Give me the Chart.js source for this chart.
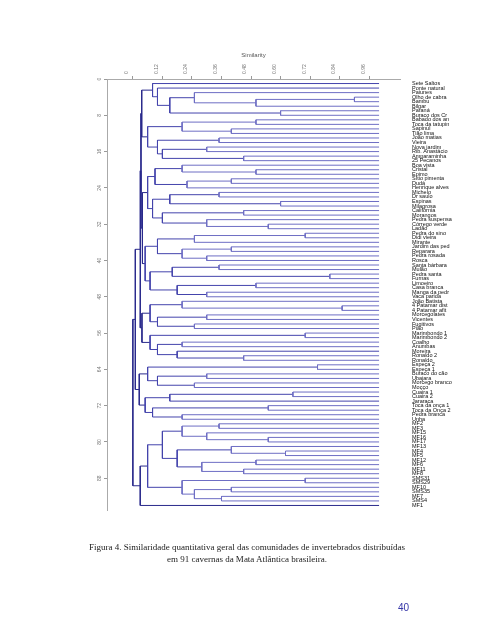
<!DOCTYPE html>
<html>
<head>
<meta charset="utf-8">
<script src="https://cdn.jsdelivr.net/npm/chart.js@4.4.1/dist/chart.umd.min.js"></script>
<style>
    body { margin: 0; background: #fff; }
    #page { position: relative; width: 494px; height: 640px; overflow: hidden; }
    #page canvas { position: absolute; left: 0; top: 0; }
    .cap { position: absolute; left: 0; width: 494px; text-align: center;
           font-family: "Liberation Serif", serif; font-size: 9px; color: #222; }
    #pageNum { position: absolute; left: 398px; top: 602px; font-family: "Liberation Sans", Arial, sans-serif;
               font-size: 10px; color: #3535a8; }
</style>
</head>
<body>
<div id="page">
    <canvas id="similarityDendrogram" width="494" height="640"></canvas>
    <div class="cap" style="top:542px">Figura 4. Similaridade quantitativa geral das comunidades de invertebrados distribuídas</div>
    <div class="cap" style="top:554px">em 91 cavernas da Mata Atlântica brasileira.</div>
    <div id="pageNum">40</div>
</div>
<script>
// Caves, top to bottom as in the tree
const caveNames = [
    'Sete Saltos', 'Ponte natural', 'Paiunes', 'Olho de cabra', 'Bambu', 'Bilgar', 'Paraná',
    'Buraco dos Cr', 'Babado dos an', 'Toca da tatupin', 'Sapinul', 'Tião lima', 'João matias',
    'Vieira', 'Nova jardim', 'Rib. Anastácio', 'Amparaminha', '25 Pecanos', 'Boa vista', 'Cristal',
    'Epimo', 'Sítio pimenta', 'Dudá', 'Henrique alves', 'Michelo', 'Dr saulo', 'Espinas', 'Milagrosa',
    'Califórnia', 'Morangos', 'Pedra suspensa', 'Córrego verde', 'Ladão', 'Pedra do sino',
    'Didi vieira', 'Mirante', 'Jardim das ped', 'Reparara', 'Pedra rosada', 'Rosca', 'Santa bárbara',
    'Mulão', 'Pedra santa', 'Furnas', 'Limoeiro', 'Casa branca', 'Manga da pedr', 'Vaca parida',
    'João Batista', '4 Patamar dist', '4 Patamar afit', 'Morcegolates', 'Vicentes', 'Fugitivos',
    'Pião', 'Marimbondo 1', 'Marimbondo 2', 'Coalho', 'Anumbas', 'Moreira', 'Ronaldo 2', 'Ronaldo',
    'Espeça 2', 'Espeça 1', 'Buraco do cão', 'Ubajara', 'Morcego branco', 'Moçço', 'Cuaira 1',
    'Cuaira 2', 'Jararaca', 'Toca da onça 1', 'Toca da Onça 2', 'Pedra branca', 'Unha',
    'MF2', 'MF3', 'MF15', 'MF16', 'MF17', 'MF13', 'MF4', 'MF5', 'MF12', 'MF6', 'MF11', 'MF8',
    'SMS31', 'SMS29', 'MF10', 'SMS35', 'MF7', 'SMS4', 'MF1'
];

// Each join: rows mergeFrom..mergeSplit meet rows mergeSplit+1..mergeTo at similarity mergeSim
const mergeFrom = [
    1,
    76, 76, 76, 76, 76, 78, 79, 81, 81, 82, 84, 84, 86, 88, 88, 90, 90, 92,
    1, 63, 63, 63, 65, 65, 67, 69, 69, 69, 72, 72, 74,
    1, 49, 49, 49, 50, 52, 52, 54, 56, 56, 58, 58, 60, 61,
    1, 1, 1, 2, 3, 3, 4, 4, 7, 9, 9, 9, 11, 13, 13, 15, 15, 17,
    19, 19, 19, 19, 20, 22, 22, 25, 25, 25, 27, 29, 29, 31, 32, 34, 34, 34, 34, 37, 37, 39, 41, 41, 41, 43, 45, 45, 47
];
const mergeSplit = [
    75,
    93, 87, 80, 77, 76, 78, 79, 83, 81, 82, 85, 84, 86, 89, 88, 91, 90, 92,
    62, 68, 64, 63, 66, 65, 67, 71, 70, 69, 73, 72, 74,
    48, 55, 51, 49, 50, 53, 52, 54, 57, 56, 59, 58, 60, 61,
    18, 8, 1, 2, 6, 3, 5, 4, 7, 12, 10, 9, 11, 14, 13, 16, 15, 17,
    33, 24, 21, 19, 20, 23, 22, 28, 26, 25, 27, 30, 29, 31, 32, 40, 36, 35, 34, 38, 37, 39, 44, 42, 41, 43, 46, 45, 47
];
const mergeTo = [
    94,
    94, 93, 87, 80, 77, 80, 80, 87, 83, 83, 87, 85, 87, 93, 89, 93, 91, 93,
    75, 75, 68, 64, 68, 66, 68, 75, 71, 70, 75, 73, 75,
    62, 62, 55, 51, 51, 55, 53, 55, 62, 57, 62, 59, 62, 62,
    48, 18, 8, 8, 8, 6, 6, 5, 8, 18, 12, 10, 12, 18, 14, 18, 16, 18,
    48, 33, 24, 21, 21, 24, 23, 33, 28, 26, 28, 33, 30, 33, 33, 48, 40, 36, 35, 40, 38, 40, 48, 44, 42, 44, 48, 46, 48
];
const mergeSim = [
    0.00,
    0.03, 0.06, 0.12, 0.20, 0.35, 0.30, 0.55, 0.18, 0.40, 0.62, 0.28, 0.50, 0.45, 0.20, 0.70, 0.25, 0.40, 0.36,
    0.01, 0.026, 0.06, 0.75, 0.10, 0.30, 0.25, 0.05, 0.15, 0.65, 0.08, 0.55, 0.20,
    0.03, 0.037, 0.07, 0.20, 0.85, 0.10, 0.30, 0.25, 0.07, 0.70, 0.10, 0.20, 0.18, 0.45,
    0.033, 0.036, 0.08, 0.10, 0.15, 0.25, 0.50, 0.90, 0.60, 0.06, 0.20, 0.50, 0.40, 0.10, 0.35, 0.12, 0.30, 0.45,
    0.039, 0.06, 0.09, 0.20, 0.50, 0.22, 0.40, 0.08, 0.15, 0.35, 0.60, 0.12, 0.45, 0.30, 0.55,
    0.05, 0.10, 0.25, 0.70, 0.20, 0.40, 0.30, 0.07, 0.16, 0.35, 0.80, 0.18, 0.50, 0.30
];

const simTicks = [0, 0.12, 0.24, 0.36, 0.48, 0.6, 0.72, 0.84, 0.96];
const rowTicks = [0, 8, 16, 24, 32, 40, 48, 56, 64, 72, 80, 88];

// place every node: leaves at similarity 1, joins at the midpoint of their children
const nodes = {};
caveNames.forEach((_, i) => { nodes[(i + 1) + '-' + (i + 1)] = { x: 1, y: i + 1 }; });
const joinOrder = mergeFrom.map((_, i) => i)
    .sort((a, b) => (mergeTo[a] - mergeFrom[a]) - (mergeTo[b] - mergeFrom[b]));
const datasets = [];
joinOrder.forEach(i => {
    const a = nodes[mergeFrom[i] + '-' + mergeSplit[i]];
    const b = nodes[(mergeSplit[i] + 1) + '-' + mergeTo[i]];
    if (!a || !b) return;
    const s = mergeSim[i];
    nodes[mergeFrom[i] + '-' + mergeTo[i]] = { x: s, y: (a.y + b.y) / 2 };
    datasets.push({
        data: [{ x: a.x, y: a.y }, { x: s, y: a.y }, { x: s, y: b.y }, { x: b.x, y: b.y }],
        borderColor: s < 0.05 ? '#2a2a8c' : (s < 0.2 ? '#4444ac' : '#6e6ec4'),
        borderWidth: 1,
        pointRadius: 0,
        tension: 0,
        yAxisID: 'y'
    });
});

const tickFont = { family: 'Liberation Sans', size: 5 };

const dendroConfig = {
    type: 'line',
    data: { datasets: datasets },
    options: {
        animation: false,
        responsive: false,
        layout: { padding: { left: 95, top: 52, right: 0, bottom: 130 } },
        plugins: { legend: { display: false }, tooltip: { enabled: false } },
        scales: {
            x: {
                type: 'linear',
                position: 'top',
                min: -0.105,
                max: 1.085,
                afterBuildTicks: s => { s.ticks = simTicks.map(v => ({ value: v })); },
                afterFit: s => { s.height = 27; },
                ticks: {
                    font: tickFont, color: '#777', minRotation: 90, maxRotation: 90, padding: 2,
                    callback: v => v === 0 ? '0' : v.toFixed(2)
                },
                grid: { drawOnChartArea: false, tickLength: 3, color: '#999' },
                border: { color: '#aaa' },
                title: { display: true, text: 'Similarity', font: { family: 'Liberation Sans', size: 6 }, color: '#555', padding: 0 }
            },
            y: {
                type: 'linear',
                position: 'left',
                reverse: true,
                min: 0,
                max: 95,
                afterBuildTicks: s => { s.ticks = rowTicks.map(v => ({ value: v })); },
                afterFit: s => { s.width = 12; },
                ticks: { font: tickFont, color: '#777', minRotation: 90, maxRotation: 90, padding: 2, crossAlign: 'center' },
                grid: { drawOnChartArea: false, tickLength: 3, color: '#999' },
                border: { color: '#aaa' }
            },
            names: {
                type: 'linear',
                position: 'right',
                reverse: true,
                min: 0,
                max: 95,
                afterBuildTicks: s => { s.ticks = caveNames.map((_, i) => ({ value: i + 1 })); },
                afterFit: s => { s.width = 94; },
                ticks: {
                    font: { family: 'Liberation Sans', size: 5.5 }, color: '#111', autoSkip: false, padding: 4,
                    callback: v => caveNames[v - 1]
                },
                grid: { display: false },
                border: { display: false }
            }
        }
    }
};

const similarityDendrogram = new Chart(
    document.getElementById('similarityDendrogram'),
    dendroConfig
);
</script>
</body>
</html>
